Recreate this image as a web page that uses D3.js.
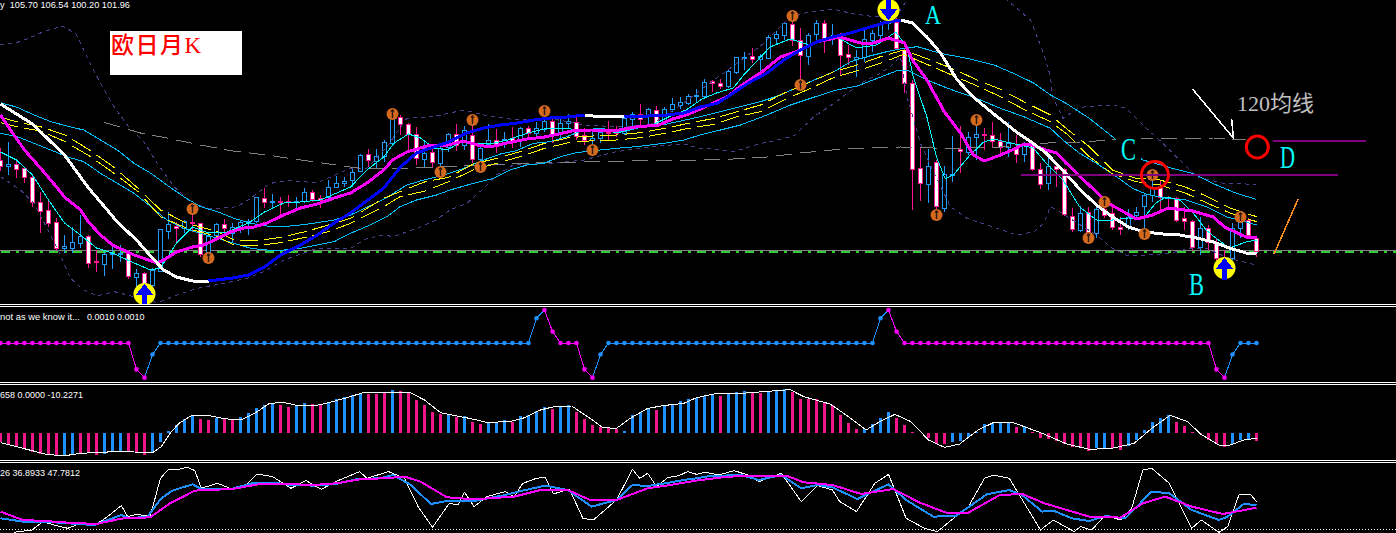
<!DOCTYPE html>
<html><head><meta charset="utf-8">
<style>html,body{margin:0;padding:0;background:#000;overflow:hidden}svg{display:block}</style>
<script src="https://cdn.jsdelivr.net/npm/d3@7"></script>
</head><body>
<script>
const opens=[129,127.2,127.8,126.6,123.9,116.4,114,110.4,102.6,102.6,104.1,106.2,98.7,97.8,100.8,100.8,101.1,93.9,95.1,91.5,95.7,107.7,109.2,108.6,110.4,110.1,101.4,106.5,109.8,107.1,108.9,110.1,110.7,117.6,116.4,116.7,116.7,116.4,116.7,119.4,117.6,117.9,120.9,122.1,123,125.7,130.8,128.7,130.2,134.1,141.9,139.8,136.8,129.3,131.4,128.1,132.9,136.8,133.5,136.5,129.3,133.8,135,133.8,135.6,135.3,138.6,137.1,138.3,140.7,137.4,140.1,140.4,136.5,135,135.6,137.4,137.4,137.1,141.3,142.8,142.5,144,140.4,144.3,145.5,146.1,148.2,148.2,152.7,152.1,151.2,155.4,159.6,160.2,159.3,159.6,165.6,166.5,169.8,165,160.2,166.8,170.1,165.9,165.9,160.8,159.3,159.9,165,166.5,170.1,170.4,162,152.1,126.6,121.8,128.4,114.6,124.5,132.3,131.4,135.9,136.8,136.5,134.7,132.9,132.9,130.8,134.4,126.3,122.1,127.2,126.3,112.2,108,113.4,107.1,114.3,113.1,108.9,108.9,112.5,115.2,118.5,120.9,117.9,117.6,111.6,110.7,102.9,108.6,104.4,99.6,99.6,108.6,111,105.6];
const closes=[127.2,127.8,126.3,123.9,116.4,113.7,110.1,102.6,103.2,104.4,106.2,98.1,98.4,100.8,101.1,101.1,94.2,95.1,90.9,96,108.3,109.8,108.6,110.7,110.2,100.8,106.2,109.8,108.6,108.9,110.4,110.7,117.9,116.4,116.7,116.4,116.4,116.7,119.4,117.3,117,120.9,122.1,122.7,125.4,130.5,129,130.2,134.4,142.5,139.8,136.8,129.6,131.1,128.4,132.6,136.8,133.5,138,129.3,132.6,135,133.8,135.3,134.4,138.6,137.1,138.6,140.7,136.8,140.1,140.7,136.2,135,135.6,137.4,137.2,137.1,141.6,142.8,141.3,144.3,139.8,144.3,145.8,146.4,148.2,148.5,152.4,152.1,151.2,155.7,159.9,159.9,159.3,160.2,165.9,166.8,170.1,165,160.5,166.5,170.1,165.6,166,160.5,159.9,159.9,165.3,167.1,170.1,170.7,162.6,152.1,126.3,122.1,127.2,115.2,124.8,124.8,131.7,135.9,136.8,136.5,134.7,132.9,134.1,130.8,133.8,126.3,121.8,127.2,126.3,112.8,108.3,113.1,107.4,114.3,112.5,108.9,108.3,111.9,113.4,118.5,120.9,117.9,117.6,111,110.7,102.9,108.6,104.4,99.6,95.4,108.6,110.4,106.5,101.7];
const highs=[132.6,134.4,128.7,126.9,124.5,119.4,117.3,111.6,106.5,108.9,112.5,106.5,102,101.4,102.9,103.5,101.4,96.3,95.4,96.6,108.3,113.4,110.4,111,114.9,110.1,107.4,110.1,111.3,110.1,110.7,111.3,117.9,120.6,118.8,117.9,118.5,117.9,120.6,120,118.5,123,124.2,123.9,126.6,130.8,132.3,132.3,135,143.1,142.5,140.1,138.9,134.4,132.9,132.9,137.1,139.8,139.2,139.5,133.8,139.8,138.3,137.4,138.9,138.9,139.2,140.4,142.5,141.6,141.6,142.8,141.9,138.6,137.4,138.6,140.7,139.2,141.9,143.4,145.8,144.6,145.2,144.9,147.6,147.9,148.8,150.3,153.3,153,153.3,156,159.9,161.4,162.6,160.8,166.5,167.7,170.4,171,168.6,167.1,171,171,169.8,167.1,163.5,162,168,168,170.7,175.5,171.6,162.6,153,132.6,132.3,129,127.2,136.2,139.2,137.4,139.5,138.6,140.4,137.1,140.4,136.5,134.4,134.4,128.1,129.9,128.1,126.6,114.6,115.2,114.9,114.9,117.9,114.9,111.9,114.3,114.9,119.1,126,123,118.2,117.9,114.9,111,111.9,109.5,105.6,102,110.1,113.1,111.6,106.2];
const lows=[125.7,124.5,123.6,122.1,114.9,107.1,108.9,101.7,101.1,101.1,102.6,96.6,95.4,94.2,96.3,98.4,93.3,90.9,88.5,90.9,95.4,105.3,104.1,107.1,107.4,99.9,100.5,105.6,107.4,104.4,107.1,106.5,110.1,114.6,114.6,112.5,114.9,114,116.1,116.4,114.6,117,120.6,120.9,120.9,125.4,126.9,126.3,128.4,133.2,136.5,131.4,127.5,126.6,126.9,125.1,131.4,131.7,132,128.1,128.1,132.6,131.1,132.6,132.6,132.9,135.9,135.9,137.4,134.1,135.6,138.6,135,133.5,132,134.1,135,135.9,136.5,138.9,138.9,139.2,138.9,139.5,143.4,144.3,145.5,146.4,147.6,149.4,150.3,150.6,154.8,156,158.1,154.5,159.6,163.5,165,163.2,152.1,157.5,164.4,161.1,163.5,154.5,157.5,153.9,158.4,161.4,164.1,168,162,149.1,114,116.7,116.1,114,113.4,122.4,125.1,130.5,129,132,132.9,131.1,129.9,128.1,128.4,125.7,120.3,120,120.9,112.2,107.4,107.4,105.9,105.6,111.6,108,106.5,108,111.6,107.1,116.4,113.4,114.6,110.4,108,101.7,100.5,102,98.1,94.2,99,105.6,105.9,99.9];

const trendLine=[[0,145.8],[4,139.8],[8,130.5],[11,120.6],[12.5,116.4],[14.6,110.4],[17,105],[19,99.6],[20.4,96],[22,93.9],[24,92.7],[26,92.7],[29,93.6],[31,94.5],[33,96.9],[35,100.5],[37.5,103.5],[39.6,106.5],[41.7,110.1],[43.75,113.1],[47.9,120.6],[50,126.9],[52,131.1],[56,134.4],[58.3,137.1],[60.4,138.6],[62.5,139.5],[64.6,140.1],[66.7,141],[68.75,141.6],[70.8,141.9],[73,142.5],[74,142.2],[78,141.9],[81,142.2],[83.3,142.5],[85.4,143.1],[87.5,144.9],[89.6,146],[91.6,149.1],[93.7,152.4],[95.8,155.1],[97.9,159],[100,162],[102,164.4],[104,165.9],[106.2,167.1],[108.3,168.6],[110.4,170.1],[112.5,171],[114,170.1],[115.8,165.9],[117.5,161.1],[119.6,153],[121.6,147.9],[124,143.1],[127,137.4],[129,134.1],[130.7,131.1],[133,125.4],[135,120],[137,115.5],[139,111.9],[141,108.9],[143,107.4],[145.3,106.8],[147.4,106.5],[149.5,105.6],[151.6,104.4],[153.6,102.6],[155.7,101.1],[157,100.8]];
const trendBlueRuns=[[26,73],[78,112.5]];
const trendWhiteRuns=[[0,26],[73,78],[112.5,157]];
const magentaLine=[[0,142.5],[1.25,138],[3,132],[5,126.6],[7,120.9],[8,117.9],[10,114],[11,110.4],[12.5,106.5],[14,103.5],[16.7,100.5],[19.6,98.1],[20.4,99],[22,101.4],[24,102.9],[25.4,103.5],[27,105.3],[28.75,107.4],[30.4,108.6],[31.7,108.9],[33.3,110.1],[35.4,112.5],[37.5,114.6],[39.6,115.8],[41.7,117.6],[43.75,119.1],[45.8,122.1],[47.9,126],[49,129],[50.8,131.4],[53.3,133.2],[56,133.5],[57.9,134.7],[59.6,133.5],[61.2,132.9],[63.3,134.1],[65.8,135.3],[68,135.9],[69.8,136.8],[71.4,137.7],[73.9,138],[77.3,138],[79.4,138.9],[82.3,139.5],[84,141.3],[85.7,142.5],[87.8,144.6],[91,148.2],[92.5,151.2],[95,155.1],[97.5,159.9],[100,162],[102,164.4],[104.9,165.9],[107.5,164.1],[109.1,164.1],[111,165.6],[113,164.1],[114,159],[115.8,153],[118,143.4],[120,137.1],[121.6,130.5],[123,128.7],[125,130.5],[127,132.6],[127.9,133.8],[129,133.5],[130.7,132],[132,131.1],[133.2,128.1],[135,123.9],[137,119.4],[138.2,116.4],[140,114],[142,111.3],[144,112.5],[146,114.6],[149,113.7],[151.6,111.9],[153,108.9],[155.7,105.9],[157,105.6]];
const fastLine=[[0,131.4],[2,129],[4,124.5],[6,117],[8,110.1],[10,106.5],[12,102.6],[14,101.1],[16.7,98.1],[18.75,96],[20,96.6],[22,104.1],[24,108.9],[26,107.1],[28.3,107.4],[31,110.1],[33,113.4],[35.4,116.1],[37.5,116.4],[40,117],[43.75,120.9],[45.8,126],[47.9,129.9],[49.2,134.1],[51,136.8],[52.5,135.6],[54.2,132.6],[55.9,132],[57.5,134.4],[59.2,134.1],[61.7,134.1],[63.4,135],[65.9,137.1],[68.4,138.6],[70.5,138.6],[72.2,138],[74.7,138.3],[77.2,137.1],[79.4,138.9],[81.5,139.5],[83.5,141.9],[85.7,144],[87.7,147.3],[89.5,149.1],[91.6,150.6],[92.9,154.5],[96.2,162.9],[98.7,165.3],[101.2,163.5],[104.1,166.5],[107,162.6],[109.5,163.5],[111.9,167.4],[113.3,162.9],[114.1,153.9],[115.8,141.9],[117,129.9],[118.1,123.3],[119.1,124.5],[121.2,130.5],[122.9,134.4],[124.1,135.3],[125.7,134.4],[127.4,133.5],[129.1,132.6],[130.7,128.1],[132.8,123],[134.9,114.9],[137,111],[139,111],[141,111.6],[142.9,111.6],[144.4,116.1],[145.7,117.9],[147.4,117],[149,113.4],[150.7,108],[151.9,105.6],[153.6,102.6],[155.7,104.4],[157,105]];
const upperBand=[[0,146.2],[2.1,144.8],[4.2,142.5],[6.3,140.5],[8.3,139.2],[10.4,138],[12.5,135],[14.6,132],[16.7,128],[18.8,125],[20.8,121.5],[22.9,118],[25,115],[27.1,113.5],[29.2,111.5],[31.3,110],[33.3,109.2],[35.4,109],[37.5,109.5],[39.6,110.2],[41.7,111],[43.75,112.5],[47.9,117.2],[50.8,121.5],[52.9,123],[55.4,124.5],[57.9,126.5],[60.4,129],[62.5,130.8],[64.5,131.8],[66.6,134],[68.7,134.5],[70.8,136],[72.9,138],[74.95,138.5],[77.9,137.5],[80.4,139],[83.3,139.8],[87.5,142],[91.7,144.5],[95,146.5],[97.5,148.5],[99.6,150.8],[101.7,153],[104.2,155.5],[106.3,158.5],[108.3,160],[110.8,161.5],[112.9,162.5],[114.6,163],[117.5,161],[120.8,159.5],[124.2,157.5],[127.1,154.5],[129.2,152],[131.25,148.5],[133.2,146],[136.1,141.5],[139.5,135],[142.8,129],[146.5,126.5],[149,125],[151.5,122],[154.5,119],[157,117.2]];
const lowerBand=[[0,137],[2.1,136],[4.2,134],[6.3,132],[8.3,130],[10.4,128.5],[12.5,125],[14.6,122],[16.7,119],[18.8,115],[20.8,111],[22.9,108.5],[25,107],[27.1,105.5],[29.2,104],[31.3,102.5],[33.3,102],[35.4,102],[37.5,102.5],[39.6,103.5],[41.7,104.5],[43.75,107],[46.2,109.5],[48.3,112],[49.95,115],[52,117],[54.5,118.5],[56.2,120],[59.1,122],[61.6,123.5],[63.7,126],[65.8,127.5],[67.9,128],[70,130],[72,131.2],[74.95,132],[77,132.5],[79.5,133],[82.9,134],[85.4,135],[87.45,136.5],[90,138],[92.5,139.5],[95.8,142.5],[98.75,145.5],[101.25,147.5],[104.2,149.8],[107.1,151.2],[109.6,153.5],[112.1,155.8],[113.3,156],[115.8,153],[118.75,150.2],[122,147.5],[125,144.5],[127.9,142],[131.25,138.5],[132.8,135],[134.9,131],[137,128],[139.5,124],[141.5,120.5],[143.2,118.8],[145.7,117.5],[148.2,117],[150.7,115],[153.2,112],[157,109.5]];
const yellowA=[[0,141.8],[2.3,140.3],[5,139],[8.1,136.5],[11.25,131.8],[14.2,126.8],[17.2,120.5],[20,114],[23.3,110],[27.1,107.5],[29.2,105],[32.1,104.8],[35,105.8],[38.1,107.5],[41,109.5],[43.75,111.5],[47.9,117.5],[49.95,119.5],[53.1,122.5],[56,123.8],[59.1,127.8],[62,129.5],[64.95,131.5],[68,134],[71,135.7],[74.1,136.2],[77,136.5],[80,137.2],[83,138.5],[86,140],[89.2,141.5],[92.1,143.5],[95,145.5],[97.9,149],[100.8,152],[104.2,155.5],[107.1,157.5],[110,160],[112.9,162],[116,159.2],[119.2,156.2],[122.1,153],[125,150.2],[127.9,146.5],[131.25,142.5],[133.2,138.5],[136.1,133],[139,126],[141.95,123.5],[144.9,123],[148,121],[150.9,118],[153.8,114.5],[157,112]];
const yellowB=[[0,140.2],[2.3,138.8],[5,137.7],[8.1,134.5],[11.25,130],[14.2,125],[17.2,119.5],[20,112],[23.3,108.5],[27.1,106],[29.2,103.5],[32.1,103.3],[35,104.2],[38.1,105.8],[41,107.5],[43.75,110],[47.9,115],[49.95,118],[53.1,119.7],[56,122.5],[59.1,126],[62,128],[64.95,130],[68,132.5],[71,134.2],[74.1,134.8],[77,135],[80,135.7],[83,137],[86,138.5],[89.2,139.7],[92.1,142],[95,143.5],[97.9,147],[100.8,150],[104.2,153.8],[107.1,155.8],[110,158],[112.9,160.7],[116,157.5],[119.2,154.2],[122.1,151.2],[125,148],[127.9,144.2],[131.25,140.5],[133.2,137],[136.1,130],[139,124.8],[141.95,122.5],[144.9,121.5],[148,119.2],[150.9,116],[153.8,113],[157,110.5]];
const ma120Line=[[12.8,140.4],[17.5,137.1],[20.8,135.6],[25,133.5],[29,131.7],[33.3,130.5],[37.5,129],[43.7,126.9],[45.8,126.3],[52,126.6],[60,127.5],[66.7,128.1],[72.9,128.4],[79,128.7],[87.5,129],[91.6,129.3],[95.8,129.9],[100,131.1],[104,132],[108,132.6],[112.5,132.9],[116.6,132.6],[120.8,132.6],[125,132.9],[131,134.1],[135,134.4],[139,135],[145,135.6],[151.6,135.6],[155.7,135]];
const bollingerUpper=[[0,163.5],[2.5,164.5],[5.4,167.5],[7.7,169.2],[9.4,167],[10.8,160],[12.5,152],[14.2,145],[16,139],[17.9,134.5],[19.6,128],[21.7,121],[23.75,116.5],[25.8,114.5],[27.5,114.5],[29.6,115],[31.25,117.5],[33.75,122],[35.8,122.8],[39.6,122.2],[43.75,126.5],[45.8,126.5],[48.3,133],[50.8,141.5],[54.1,142],[57.9,144],[60.4,142.5],[64.5,141],[68.7,141.5],[72.9,139.5],[77,139],[81.2,139.5],[85.4,146],[87.5,150],[92.9,159.5],[95.4,164],[97.1,168],[98.75,172],[101.25,173.5],[104.2,174.2],[106.7,172.8],[109.2,172],[111.25,172.5],[112.5,174],[113.3,177],[116,190],[122,195],[125,190],[125.8,177],[128.75,171],[130.4,161],[131.25,154],[131.5,148],[132.8,141.5],[134.9,144.8],[139,145.5],[140.7,144.5],[142.8,139.5],[145.3,134],[147.4,129],[149.5,124],[152.8,122],[157,121.7]];
const bollingerLower=[[0,124],[2.5,120],[4.2,116],[7.1,102.5],[8.75,93.5],[10.4,90],[12.1,88.2],[14.2,89.5],[16.7,88],[19.6,86.2],[22.1,88.5],[24.6,90.5],[28.3,92.2],[30.8,93.5],[32.9,95.5],[35.4,99],[39.6,102.5],[43.75,102.5],[45.8,105.5],[47.9,106.5],[49.1,106],[52,108.5],[54.1,110.5],[56.2,114],[58.3,116],[60.4,120.5],[62,124.5],[64.1,127.5],[68.7,128],[72.9,129],[77,131.5],[81.2,133],[85.4,133.8],[87.5,132.5],[89.6,132.2],[91.7,131.5],[94.6,133.7],[97.1,135],[99.2,136.3],[101.7,142],[104.2,146],[105.8,149],[107.9,152.5],[109.6,154.5],[111.25,157],[112.5,160],[113.3,148],[115,134],[116.7,125],[118.75,115],[120.8,111.5],[123.3,109.5],[127.1,106.5],[129.2,107.5],[130.4,110],[131.25,115],[131.95,114.2],[134,111],[137,106.5],[139,102.5],[140.7,100.5],[143.2,100.5],[146.1,101],[148.6,102.5],[150.7,102.5],[153.6,99.5],[157,97.5]];
const fractalBars=[24,26,49,55,59,60,68,74,99,100,117,122,136,138,143,144,155];
const fractalPrices=[114.3,99.6,142.8,125.4,141,126.9,143.7,132,172.2,151.5,112.5,141,105.6,116.4,106.8,124.5,111.9];
const signalBars=[18,111,153];
const signalPrices=[88.8,174,96.6];
const signalDirections=[1,-1,1];
const flatPrice=102;

const stepValues=[
10,10,10,10,10,10,10,10,10,10,
10,10,10,10,10,10,10,-6,-11,3,
10,10,10,10,10,10,10,10,10,10,
10,10,10,10,10,10,10,10,10,10,
10,10,10,10,10,10,10,10,10,10,
10,10,10,10,10,10,10,10,10,10,
10,10,10,10,10,10,10,25,30,17,
10,10,10,-6,-11,3,10,10,10,10,
10,10,10,10,10,10,10,10,10,10,
10,10,10,10,10,10,10,10,10,10,
10,10,10,10,10,10,10,10,10,10,
25,30,17,10,10,10,10,10,10,10,
10,10,10,10,10,10,10,10,10,10,
10,10,10,10,10,10,10,10,10,10,
10,10,10,10,10,10,10,10,10,10,
10,10,-6,-11,3,10,10,10];
const stepBlueRuns=[[19,67],[75,110],[154,157]];
const histValues=[-18.7,-22,-28.7,-32,-37.3,-41.3,-44,-46,-46,-44.7,-42,-38,-44,-41.3,-38.7,-35.3,-38,-39.3,-44,-39.3,-18,3.3,16,28,34.7,28,26,30,27.3,26,31.3,39.3,50,55.3,59.3,56,51.3,54,59.3,57.3,56,61.3,67.3,71.3,75.3,78.7,78.7,78.7,80,85.3,83.3,82,66,56,42.7,37.3,37.3,31.3,34.7,22.7,18.7,21.3,22,25.3,22.7,33.3,35.3,44,51.3,48,54.7,55.3,42.7,27.3,16,12,10.7,8,4.7,36,41.3,50.7,46,54,55.3,64,67.3,70.7,74.7,76,74.7,78,81.3,83.3,82,80,84.7,86,87.3,82.7,68,68,68,61.3,55.3,36,20,8,8.7,18,30,41.3,30,16,2,0,-10,-22,-22,-18.7,-16.7,-7.3,2,18,20,21.3,22,12.7,14,2.7,-10,-12.7,-16.7,-22,-28,-30,-35.3,-30.7,-30.7,-30.7,-33.3,-26.7,-14.7,6,22,30,36,22.7,14.7,2,-2.7,-14,-21.3,-27.3,-22,-13.3,-11.3,-15.3];
const histBlueBars=[8,9,13,14,15,19,20,21,22,23,24,27,30,31,32,33,34,37,38,41,42,43,44,45,49,56,58,61,62,63,65,66,67,68,70,71,78,79,80,81,83,84,85,86,87,88,89,91,92,93,96,97,98,108,109,110,111,119,120,121,122,123,124,125,126,128,137,138,141,142,143,144,145,146,154,155,156];
const histSignal=[[0,-19.3],[1.7,-26],[3.3,-32.7],[5.6,-42],[7.8,-46],[10,-40.7],[12.3,-38.7],[14.5,-37.3],[16.7,-38],[19,-39.3],[20.1,-27.3],[21.2,-0.7],[22.3,19.3],[24,36],[25.7,36],[27.9,28.7],[30.1,26],[32.1,42.7],[33.5,58],[35.2,62],[36.8,56],[39.1,54],[40.7,59.3],[43,69.3],[45.2,80],[49.1,80.7],[51.3,80],[53,66],[55,40.7],[56.4,36],[58.6,29.3],[60.8,21.3],[63.6,22.7],[65.3,29.3],[67.5,46],[69.2,52.7],[71.4,54],[73.7,29.3],[75.3,10.7],[77,9.3],[78.7,29.3],[80.9,49.3],[83.1,55.3],[85.4,59.3],[87,70.7],[89.2,78],[92.6,79.3],[95.4,82.7],[98.7,86.7],[100.4,72.7],[103.7,58],[106,32.7],[108.2,6],[109.9,22.7],[111.8,37.3],[113.8,22.7],[116,-14],[118,-28.7],[119.9,-22],[122.2,6],[124.1,20.7],[126.6,20.7],[130,0.7],[133.3,-22],[136.1,-32.7],[138.9,-30.7],[141.7,-20.7],[143.9,9.3],[146.2,35.3],[148.4,22.7],[150,-2],[152.3,-24],[153.4,-26],[155.4,-14],[157,-10.7]];
const stochRaw=[[1.7,17],[3.9,19.3],[5.3,27.7],[6.7,24.3],[8.4,21],[9.8,25.3],[11.7,23.7],[13.1,31],[15.1,43.7],[15.9,32.7],[17,35],[18.7,32.7],[20,71],[20.9,79.3],[22.3,80],[23.3,82],[24.3,78.7],[25.1,61],[27.1,66],[29,60],[30.7,64.3],[32.1,75.3],[34,72.7],[36.3,61],[38.2,68.7],[40.1,60],[41.9,67.7],[44.9,77.7],[45.8,71],[48.5,77.7],[50.5,71],[52.2,42.7],[54,22],[56.1,46],[57.2,44.3],[58,57],[59.2,42.7],[60.8,52.7],[63.1,57.7],[64.2,52.7],[65.3,66],[67,71],[68.1,72],[69.1,55.3],[71.1,60.3],[72.8,31],[74.1,29.3],[77,49.3],[79,80],[79.9,71],[80.9,76],[82,62.7],[83.4,71.7],[84.8,73.7],[85.9,77.7],[87,75],[88.1,77],[89.8,74.3],[91.7,78.7],[93.4,74.3],[94.8,67.7],[97.6,76],[100.1,47.7],[102.1,63.7],[104,59.3],[104.9,47.7],[107,37.7],[109.3,66],[111,75],[113.2,31],[115.5,21],[117.1,17.7],[119.4,32.7],[121,42.7],[123,71],[124.1,74.3],[126.1,71],[130,19.3],[131.6,29.3],[134.2,17.7],[135,22.7],[136.4,19.3],[138.1,34.3],[140,29.3],[141.4,41],[142.8,79.3],[143.9,81],[146.1,66],[148.9,21],[150.1,29.3],[152.3,17],[153.4,22.7],[154.8,54.3],[156.2,55.3],[157,47.7]];
const stochMain=[[0,31],[2.8,27.7],[5.6,27.7],[8.4,26],[11.7,24.3],[13.4,29.3],[15.1,34.3],[16.2,31],[18.4,32.7],[20.1,51],[21.5,58.7],[24,65],[25.1,60.3],[29,60.7],[31.8,66.7],[34,66.7],[36.3,64.3],[39.1,63.7],[41.9,65.3],[44.6,70.3],[47.4,71],[49.1,74.3],[51.3,64.3],[53.8,45.3],[55.8,48.3],[59.2,48.3],[63.1,54.3],[65.3,58.7],[68.1,63.7],[70.9,59.3],[73.9,42.7],[77,49.3],[79,64.3],[80.9,63.3],[83.1,66],[85.4,69.3],[87,71],[88.7,73.3],[92.6,74.3],[94.8,69.3],[97.6,74.3],[100.1,61],[102.1,64.3],[104,62],[107.1,50.3],[111,65],[113.2,49.3],[116.6,32.7],[119.4,33.3],[123.3,55],[126.1,59.3],[127.7,54.3],[130.2,37.7],[131.6,38.7],[133.9,31],[136.1,28.3],[138.1,33.3],[140.6,31],[143.9,57.7],[146.1,56],[148.9,39.3],[152.3,29.3],[153.4,32.7],[155.4,45.3],[157,44.3]];
const stochSignal=[[0,37.7],[2.8,29.3],[5.6,28.3],[8.4,26.7],[12,25.3],[15.1,30.7],[18.7,32],[21.2,46],[24.3,58.7],[29,60.3],[32.4,65.3],[35.7,65.3],[39.1,64.3],[41.9,66],[45.2,70.3],[48,71],[50.5,72.7],[52.5,67.7],[55.8,52],[59.2,50],[64.2,52.7],[67.5,59.3],[70.9,59.3],[73.7,49.3],[77,49.3],[80.9,61],[83.7,64.3],[87,68.7],[90.3,72],[93.1,73.7],[98.2,73.7],[100.4,67],[104,64.3],[107.6,55.3],[111.6,60.3],[114.9,46.7],[118.2,36.7],[121,36.7],[124.9,54.3],[127.7,55.3],[130.5,46],[133.3,39.3],[136.1,32.7],[140,31.7],[142.8,46],[145.6,52.7],[148.9,42.7],[152.8,35.3],[155.1,38.7],[157,41.7]];

const priceTitle="y  105.70 106.54 100.20 101.96";
const stepName="not as we know it...";
const stepNumbers="0.0010 0.0010";
const histTitle="658 0.0000 -10.2271";
const stochTitle="26 36.8933 47.7812";

const W=1396,H=533;
const svg=d3.select("body").append("svg").attr("width",W).attr("height",H).style("background","#000");
const defs=svg.append("defs");
function clip(id,y0,y1){defs.append("clipPath").attr("id",id).append("rect").attr("x",0).attr("y",y0).attr("width",W).attr("height",y1-y0);}
clip("cMain",0,304);clip("cStoch",463,533);

const x=d3.scaleLinear().domain([0,157]).range([0.5,1256.5]);
const y=d3.scaleLinear().domain([177,87]).range([0,300]);
const yStep=d3.scaleLinear().domain([10,30]).range([343,310]);
const yHist=d3.scaleLinear().domain([0,100]).range([433,383]);
const yStoch=d3.scaleLinear().domain([20,100]).range([529.3,449.3]);

const UP="#1E9CFF",DOWN="#FF1493",BLUE="#1E90FF",MAG="#FF00FF",CYAN="#00BFFF",AQUA="#00FFFF";

const main=svg.append("g").attr("clip-path","url(#cMain)");
main.append("line").attr("x1",0).attr("x2",W).attr("y1",y(flatPrice)+0.5).attr("y2",y(flatPrice)+0.5).attr("stroke","#808080").attr("shape-rendering","crispEdges");
main.append("line").attr("x1",1).attr("x2",W).attr("y1",252).attr("y2",252).attr("stroke","#32CD32").attr("stroke-width",2).attr("stroke-dasharray","9 6 3 6").attr("shape-rendering","crispEdges");

const idx=d3.range(opens.length);
const cg=main.append("g").attr("shape-rendering","crispEdges");
cg.selectAll(".w").data(idx).join("line")
 .attr("x1",i=>x(i)).attr("x2",i=>x(i)).attr("y1",i=>y(highs[i])).attr("y2",i=>y(lows[i]))
 .attr("stroke",i=>closes[i]>=opens[i]?UP:DOWN);
cg.selectAll(".b").data(idx).join("rect")
 .attr("x",i=>x(i)-2).attr("width",4)
 .attr("y",i=>Math.round(y(Math.max(opens[i],closes[i])))+0.5)
 .attr("height",i=>Math.max(1,Math.round(Math.abs(y(opens[i])-y(closes[i])))))
 .attr("fill",i=>closes[i]>=opens[i]?"#000":"#fff")
 .attr("stroke",i=>closes[i]>=opens[i]?UP:DOWN);

const lineGen=d3.line().x(d=>x(d[0])).y(d=>y(d[1]));
function draw(par,pairs,color,w,dash,yS){
  const g=yS?d3.line().x(d=>x(d[0])).y(d=>yS(d[1])):lineGen;
  const p=par.append("path").attr("d",g(pairs)).attr("fill","none").attr("stroke",color).attr("stroke-width",w).attr("stroke-linejoin","round").attr("shape-rendering","crispEdges");
  if(dash)p.attr("stroke-dasharray",dash);
  return p;
}
function dashed(pairs,color,w,phase,on){
  const lerp=d3.scaleLinear().domain(pairs.map(d=>d[0])).range(pairs.map(d=>d[1]));
  const b0=pairs[0][0],b1=pairs[pairs.length-1][0];
  const segs=[];
  for(let k=-1;k<60;k++){
    const s=Math.max(b0,(24*k+phase)/8),e=Math.min(b1,(24*k+phase+on)/8);
    if(e<=s)continue;
    const inner=pairs.filter(d=>d[0]>s&&d[0]<e);
    segs.push([[s,lerp(s)],...inner,[e,lerp(e)]]);
  }
  main.append("path").attr("d",segs.map(lineGen).join("")).attr("fill","none").attr("stroke",color).attr("stroke-width",w).attr("shape-rendering","crispEdges");
}
draw(main,bollingerUpper,"#483D8B",1,"4 4");
draw(main,bollingerLower,"#483D8B",1,"4 4");
dashed(ma120Line,"#808080",1,8,16);
draw(main,upperBand,CYAN,1);
draw(main,lowerBand,CYAN,1);
dashed(yellowA,"#FFFF00",1,0,18);
dashed(yellowB,"#FFFF00",1,0,18);
draw(main,fastLine,AQUA,1);
draw(main,magentaLine,MAG,3);
trendWhiteRuns.forEach(r=>draw(main,trendLine.filter(d=>d[0]>=r[0]&&d[0]<=r[1]),"#fff",3));
trendBlueRuns.forEach(r=>draw(main,trendLine.filter(d=>d[0]>=r[0]&&d[0]<=r[1]),"#0000FF",3));

const fg=main.selectAll(".f").data(fractalBars).join("g").attr("transform",(d,i)=>`translate(${x(d)},${y(fractalPrices[i])})`);
fg.append("circle").attr("r",6).attr("fill","#D2691E");
fg.append("path").attr("d","M0,-4V4M-1.5,-2.5L0,-4L1.5,-2.5").attr("stroke","#2a1a10").attr("stroke-width",1.4).attr("fill","none");

const sg=main.selectAll(".s").data(signalBars).join("g").attr("transform",(d,i)=>`translate(${x(d)},${y(signalPrices[i])})`);
sg.append("circle").attr("r",11).attr("fill","#FFFF00");
sg.append("path").attr("d",(d,i)=>signalDirections[i]>0?"M0,-10L9,1H2.5V12H-2.5V1H-9Z":"M0,10L9,-1H2.5V-12H-2.5V-1H-9Z").attr("fill","#0000FF").attr("shape-rendering","crispEdges");

const purpleLevels=[[159.1,170.7,134.7],[127.6,167.2,124.5]];
purpleLevels.forEach(l=>svg.append("line").attr("x1",x(l[0])).attr("x2",x(l[1])).attr("y1",y(l[2])).attr("y2",y(l[2])).attr("stroke","#800080").attr("stroke-width",2).attr("shape-rendering","crispEdges"));
const redRings=[[157.1,132.9,11],[144.3,124.5,13.5]];
redRings.forEach(r=>svg.append("circle").attr("cx",x(r[0])).attr("cy",y(r[1])).attr("r",r[2]).attr("fill","none").attr("stroke","#FF0000").attr("stroke-width",3));
const orangeStroke=[[159.2,100.8],[162.2,117.3]];
draw(svg,orangeStroke,"#FF8C1A",1.5);
const whiteArrow=[[149,150.3],[154.1,135.6],[153.9,141.3]];
draw(svg,whiteArrow,"#fff",1.5);

svg.append("rect").attr("x",1116).attr("y",137).attr("width",25).attr("height",24).attr("fill","#000");
function bigLetter(t,xp,yp,w,fs){
  svg.append("text").attr("x",xp).attr("y",yp).attr("textLength",w).attr("lengthAdjust","spacingAndGlyphs")
   .attr("font-family","Liberation Serif").attr("font-size",fs).attr("fill",AQUA).text(t);
}
bigLetter("A",925,24,16,27);
bigLetter("B",1189,295,15,31);
bigLetter("C",1121,160,15,31);
bigLetter("D",1280,168,15,31);
svg.append("text").attr("x",1237).attr("y",111).attr("font-family","'Liberation Serif','Noto Sans CJK SC'").attr("font-size",22).attr("fill","#C0C0C0").text("120均线");
svg.append("rect").attr("x",110).attr("y",31).attr("width",132).attr("height",44).attr("fill","#fff");
svg.append("text").attr("x",111).attr("y",53).attr("font-family","'Liberation Serif','Noto Sans CJK SC'").attr("font-weight",500).attr("font-size",23).attr("letter-spacing",1.5).attr("fill","#FF0000").text("欧日月K");

function legend(t,xp,yp,len){const n=svg.append("text").attr("x",xp).attr("y",yp).attr("font-family","Liberation Sans").attr("font-size",9).attr("fill","#fff").attr("xml:space","preserve").text(t);if(len)n.attr("textLength",len).attr("lengthAdjust","spacingAndGlyphs");}
legend(priceTitle,0,8,130);

[304.5,306.5,382.5,384.5,460.5,462.5].forEach(v=>svg.append("line").attr("x1",0).attr("x2",W).attr("y1",v).attr("y2",v).attr("stroke","#fff").attr("shape-rendering","crispEdges"));

const isBlue=i=>stepBlueRuns.some(r=>i>=r[0]&&i<=r[1]);
const stepIdx=d3.range(stepValues.length);
const p1=svg.append("g");
stepIdx.slice(0,-1).forEach(i=>{
  const a=stepValues[i],b=stepValues[i+1];
  const col=b>a?BLUE:b<a?MAG:(isBlue(i)?BLUE:MAG);
  p1.append("line").attr("x1",x(i)).attr("x2",x(i+1)).attr("y1",yStep(a)).attr("y2",yStep(b)).attr("stroke",col).attr("shape-rendering","crispEdges");
});
p1.selectAll("circle").data(stepIdx).join("circle").attr("cx",i=>x(i)).attr("cy",i=>yStep(stepValues[i])).attr("r",2.3).attr("fill",i=>isBlue(i)?BLUE:MAG);
legend(stepName,0,320,80);
legend(stepNumbers,87,320);

const p2=svg.append("g");
p2.selectAll("rect").data(d3.range(histValues.length)).join("rect")
 .attr("x",i=>x(i)-1.5).attr("width",3)
 .attr("y",i=>Math.min(yHist(0),yHist(histValues[i])))
 .attr("height",i=>Math.abs(yHist(histValues[i])-yHist(0)))
 .attr("fill",i=>histBlueBars.includes(i)?BLUE:"#F0158A").attr("shape-rendering","crispEdges");
draw(p2,histSignal,"#fff",1,null,yHist);
legend(histTitle,0,398);

const p3=svg.append("g").attr("clip-path","url(#cStoch)");
p3.append("line").attr("x1",0).attr("x2",W).attr("y1",yStoch(20)).attr("y2",yStoch(20)).attr("stroke","#fff").attr("stroke-dasharray","1 2").attr("shape-rendering","crispEdges");
draw(p3,stochRaw,"#fff",1,null,yStoch);
draw(p3,stochMain,BLUE,2,null,yStoch);
draw(p3,stochSignal,MAG,2,null,yStoch);
legend(stochTitle,0,476);
</script>
</body></html>
